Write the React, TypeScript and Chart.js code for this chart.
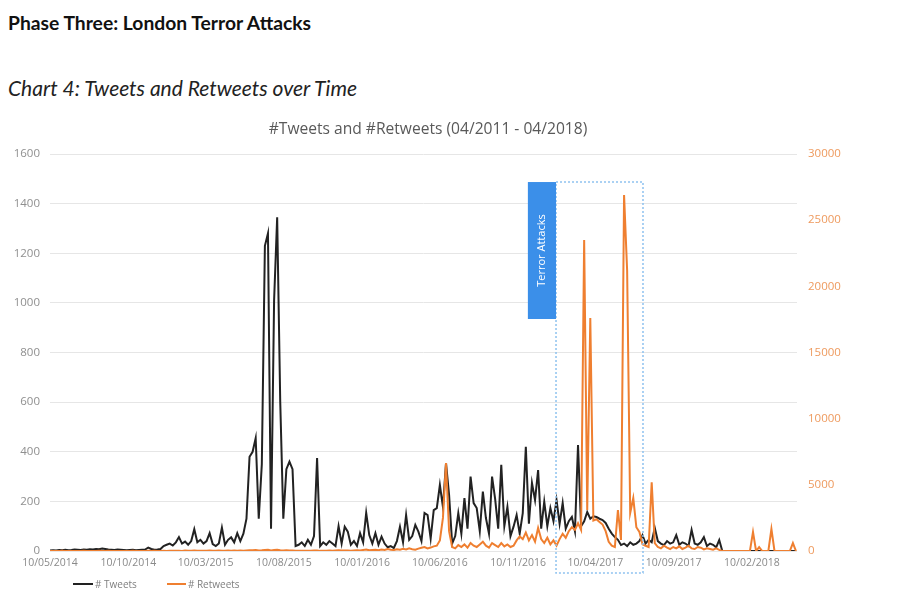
import React, { useEffect, useRef } from "react";
import { Chart, registerables } from "chart.js";

Chart.register(...registerables);

// ---- data ----
const START_DATE = "10/05/2014";
const STEP_DAYS = 6;
const X_MAX_DAYS = 1460;

const TICK_LABELS = [
  "10/05/2014", "10/10/2014", "10/03/2015", "10/08/2015", "10/01/2016",
  "10/06/2016", "10/11/2016", "10/04/2017", "10/09/2017", "10/02/2018",
];

const TWEETS_LEFT_MAX = 1600;
const TWEETS_STEP = 200;
const RETWEETS_RIGHT_MAX = 30000;
const RETWEETS_STEP = 5000;

// # Tweets, one value every STEP_DAYS days from START_DATE
const TWEETS = [
  2, 3, 2, 4, 3, 5, 3, 4, 6, 5, 4, 6, 5, 7, 6, 8, 7, 10, 8, 6,
  5, 4, 6, 5, 4, 3, 4, 5, 3, 4, 5, 6, 14, 8, 5, 6, 8,
  20, 25, 30, 22, 35, 56, 30, 38, 25, 40, 88, 35, 45, 30, 40, 72, 28, 20, 30, 94,
  25, 45, 55, 35, 72, 40, 70, 130,
  380, 400, 455, 130, 350, 1230, 1280, 90, 1010, 1345, 600, 130, 330, 360, 330, 20,
  25, 35, 20, 45, 25, 60, 375, 20, 35, 25, 40, 30, 20,
  100, 30, 98, 78, 25, 40, 20, 72, 35, 154,
  64, 30, 72, 25, 58, 30, 15, 20, 12, 40,
  98, 35, 145, 45, 60, 105, 78, 40, 153, 145,
  50, 165, 173, 266, 178, 354, 226, 30, 60, 153,
  70, 213, 90, 300, 193, 173, 80, 239, 133, 70,
  300, 210, 90, 347, 100, 178, 60, 98, 145, 70,
  153, 420, 110, 274, 205, 326, 90, 199, 100, 173,
  120, 205,
  110, 193, 90, 120, 137, 80, 427, 100, 120, 157,
  130, 140, 137, 130, 125, 113, 90, 70, 56, 45,
  24, 30, 20, 35, 25, 30, 40, 64, 30, 45,
  35, 93, 40, 30, 24, 40, 30, 35, 64, 25,
  35, 30, 20, 85, 30, 25, 35, 56, 20, 30,
  25, 15, 44,
  0, 0, 0, 0, 0, 0, 0, 0, 0, 0, 0, 0, 0, 0, 0, 0, 0, 0, 0, 0, 0, 0, 0, 0, 0,
];

// # Retweets, same dates
const RETWEETS = [
  0, 0, 5, 0, 10, 0, 0, 8, 0, 5,
  0, 12, 0, 0, 6, 0, 15, 0, 0, 10,
  0, 5, 0, 0, 8, 0, 0, 12, 0, 0,
  6, 0, 20, 0, 10, 0, 5, 15, 0, 20,
  10, 25, 15, 0, 30, 20, 10, 35, 15, 20,
  25, 10, 30, 15, 20, 35, 10, 25, 40, 20,
  30, 15, 45, 25, 40, 60, 55, 70, 30, 50,
  80, 90, 40, 75, 100, 60, 45, 50, 40, 30,
  10, 15, 20, 10, 25, 15, 30, 40, 10, 20,
  25, 30, 15, 40, 50, 30, 45, 35, 25, 40,
  60, 45, 80, 110, 50, 70, 90, 60, 120, 80,
  150, 100, 70, 130, 90, 160, 120, 200, 140, 100,
  180, 250, 300, 200, 260, 350,
  400, 800, 2500, 6650, 1500, 300, 200, 450, 300, 500,
  250, 600, 400, 300, 500, 700, 400, 250, 600, 450,
  300, 600, 350, 500, 300, 400, 800, 1100, 900, 1400,
  800, 1200, 700, 1740, 900, 600, 1000, 500, 800, 400,
  900, 1300, 1000, 1500, 1800, 1600, 2100, 1590, 23500, 3100,
  17600, 2300, 2400, 2200, 2000, 1500, 700, 400, 300, 3100,
  830, 26900, 21200, 2870, 4000, 1800, 1440, 500, 400, 300,
  5200,
  600, 300, 200, 400, 250, 150, 300, 200, 350, 150,
  250, 400, 200, 150, 300, 250, 120, 200, 150, 100, 200, 80,
  0, 0, 0, 0, 0, 0, 0, 0, 0, 0,
  1440, 0, 300, 0, 0, 0, 1660, 0, 0, 0,
  0, 0, 0, 600, 0,
];

// highlight annotation ("Terror Attacks")
const HIGHLIGHT_LABEL = "Terror Attacks";
const BOX_START = "23/01/2017";
const BOX_END = "12/07/2017";
const TAG_START = "29/11/2016";
const BOX_TOP_VALUE = 1487;
const TAG_BOTTOM_VALUE = 935;

// ---- helpers ----
function parseDate(s: string): number {
  const [d, m, y] = s.split("/").map(Number);
  return Date.UTC(y, m - 1, d);
}
function dayOf(s: string): number {
  return Math.round((parseDate(s) - parseDate(START_DATE)) / 86400000);
}

const highlightPlugin = {
  id: "highlightBox",
  afterDatasetsDraw(chart: any) {
    const { ctx, chartArea, scales } = chart;
    const x = scales.x;
    const y = scales.y;
    const bx0 = x.getPixelForValue(dayOf(BOX_START));
    const bx1 = x.getPixelForValue(dayOf(BOX_END));
    const rx0 = x.getPixelForValue(dayOf(TAG_START));
    const by0 = y.getPixelForValue(BOX_TOP_VALUE);
    const by1 = chartArea.bottom + 22;
    const ry1 = y.getPixelForValue(TAG_BOTTOM_VALUE);
    ctx.save();
    ctx.setLineDash([2, 2]);
    ctx.strokeStyle = "#8ec2ef";
    ctx.lineWidth = 1.5;
    ctx.strokeRect(bx0, by0, bx1 - bx0, by1 - by0);
    ctx.setLineDash([]);
    ctx.fillStyle = "#3b8fe9";
    ctx.fillRect(rx0, by0, bx0 - rx0, ry1 - by0);
    ctx.translate((rx0 + bx0) / 2, (by0 + ry1) / 2);
    ctx.rotate(-Math.PI / 2);
    ctx.fillStyle = "#ffffff";
    ctx.font = '11px "Open Sans"';
    ctx.textAlign = "center";
    ctx.textBaseline = "middle";
    ctx.fillText(HIGHLIGHT_LABEL, 0, 0);
    ctx.restore();
  },
};

export default function App() {
  const canvasRef = useRef<HTMLCanvasElement | null>(null);

  useEffect(() => {
    if (!canvasRef.current) return;
    const tickDays = TICK_LABELS.map(dayOf);
    const labelForDay = new Map<number, string>();
    TICK_LABELS.forEach((l, i) => labelForDay.set(tickDays[i], l));

    const chart = new Chart(canvasRef.current, {
      type: "line",
      data: {
        datasets: [
          {
            label: "# Tweets",
            data: TWEETS.map((v, i) => ({ x: i * STEP_DAYS, y: v })),
            borderColor: "#222222",
            borderWidth: 2,
            pointRadius: 0,
            tension: 0,
            yAxisID: "y",
            order: 1,
          },
          {
            label: "# Retweets",
            data: RETWEETS.map((v, i) => ({ x: i * STEP_DAYS, y: v })),
            borderColor: "#ef7f30",
            borderWidth: 2,
            pointRadius: 0,
            tension: 0,
            yAxisID: "y2",
            order: 0,
          },
        ],
      },
      options: {
        animation: false,
        responsive: false,
        layout: { padding: { top: 154, bottom: 20, left: 0, right: 0 } },
        plugins: {
          legend: { display: false },
          title: { display: false },
          tooltip: { enabled: false },
        },
        scales: {
          x: {
            type: "linear",
            min: 0,
            max: X_MAX_DAYS,
            grid: { display: false, drawTicks: false },
            border: { display: false },
            afterBuildTicks: (s: any) => {
              s.ticks = tickDays.map((d) => ({ value: d }));
            },
            afterFit: (s: any) => {
              s.height = 30;
            },
            ticks: {
              autoSkip: false,
              maxRotation: 0,
              padding: 6,
              color: "#8a8a8a",
              font: { family: "Open Sans", size: 10.5 },
              callback: (v: any) => labelForDay.get(Number(v)) ?? "",
            },
          },
          y: {
            position: "left",
            min: 0,
            max: TWEETS_LEFT_MAX,
            afterFit: (s: any) => {
              s.width = 50;
            },
            grid: { color: "#e6e6e6", drawTicks: false },
            border: { display: false },
            ticks: {
              stepSize: TWEETS_STEP,
              padding: 10,
              color: "#8f8f8f",
              font: { family: "Open Sans", size: 11.5 },
              callback: (v: any) => String(v),
            },
          },
          y2: {
            position: "right",
            min: 0,
            max: RETWEETS_RIGHT_MAX,
            afterFit: (s: any) => {
              s.width = 103;
            },
            grid: { drawOnChartArea: false, drawTicks: false },
            border: { display: false },
            ticks: {
              stepSize: RETWEETS_STEP,
              padding: 11,
              color: "#ee9a5e",
              font: { family: "Open Sans", size: 11.5 },
              callback: (v: any) => String(v),
            },
          },
        },
      },
      plugins: [highlightPlugin],
    } as any);

    return () => chart.destroy();
  }, []);

  return (
    <div
      style={{
        position: "fixed",
        left: 0,
        top: 0,
        width: 900,
        height: 601,
        background: "#ffffff",
        overflow: "hidden",
      }}
    >
      <div
        style={{
          position: "absolute",
          left: 8,
          top: 13,
          fontFamily: "Lato, sans-serif",
          fontWeight: 700,
          fontSize: 19.3,
          lineHeight: 1,
          color: "#111",
          whiteSpace: "nowrap",
        }}
      >
        Phase Three: London Terror Attacks
      </div>
      <div
        style={{
          position: "absolute",
          left: 8,
          top: 77,
          fontFamily: "Lato, sans-serif",
          fontStyle: "italic",
          fontSize: 21,
          lineHeight: 1,
          color: "#222",
          whiteSpace: "nowrap",
        }}
      >
        Chart 4: Tweets and Retweets over Time
      </div>
      <canvas
        ref={canvasRef}
        width={900}
        height={601}
        style={{ position: "absolute", left: 0, top: 0, width: 900, height: 601 }}
      />
      <div
        style={{
          position: "absolute",
          left: 0,
          width: 856,
          top: 121,
          textAlign: "center",
          fontFamily: "'Open Sans', sans-serif",
          fontSize: 15.6,
          lineHeight: 1,
          color: "#595959",
          whiteSpace: "nowrap",
        }}
      >
        #Tweets and #Retweets (04/2011 - 04/2018)
      </div>
      <div
        style={{
          position: "absolute",
          left: 73,
          top: 579,
          display: "flex",
          alignItems: "center",
          fontFamily: "'Open Sans', sans-serif",
          fontSize: 10,
          lineHeight: 1,
          color: "#7f7f7f",
          whiteSpace: "nowrap",
        }}
      >
        <span style={{ display: "inline-block", width: 20, height: 2, background: "#222222", marginRight: 2 }} />
        <span style={{ marginRight: 30 }}># Tweets</span>
        <span style={{ display: "inline-block", width: 19, height: 2, background: "#ef7f30", marginRight: 2 }} />
        <span># Retweets</span>
      </div>
    </div>
  );
}
